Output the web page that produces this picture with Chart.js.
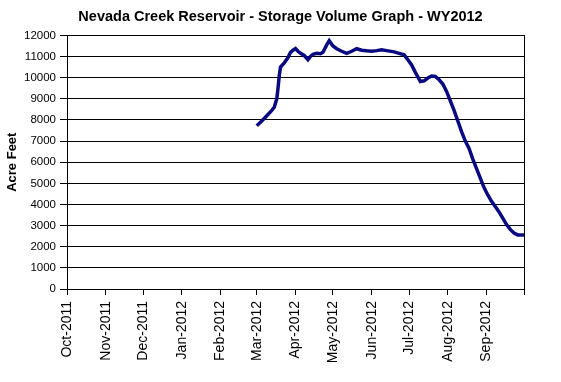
<!DOCTYPE html>
<html><head><meta charset="utf-8">
<script src="https://cdn.jsdelivr.net/npm/chart.js@4"></script>
<style>html,body{margin:0;padding:0;background:#fff}canvas{display:block}</style>
</head><body>
<canvas id="c" width="561" height="382"></canvas>
<script>
const chartTitle = "Nevada Creek Reservoir - Storage Volume Graph - WY2012";
const yAxisTitle = "Acre Feet";
const monthLabels = ["Oct-2011","Nov-2011","Dec-2011","Jan-2012","Feb-2012","Mar-2012","Apr-2012","May-2012","Jun-2012","Jul-2012","Aug-2012","Sep-2012",""];
const monthStartDays = [0,31,61,92,123,152,183,213,244,274,305,336,366];
const dayOffsets = [152,156,160,164,166,168,169,170,171,174,177,179,181,183,185,187,190,193,195,197,200,203,205,208,210,213,216,220,224,228,232,236,240,244,248,252,256,262,266,270,273,276,279,283,286,289,292,295,298,301,304,307,310,313,316,319,322,325,328,331,334,337,340,343,346,349,352,355,358,361,366];
const storageAcreFeet = [7720,7950,8200,8450,8600,9000,9500,10100,10500,10700,10950,11200,11300,11380,11250,11150,11050,10850,11000,11100,11150,11130,11200,11550,11750,11500,11370,11250,11150,11250,11370,11300,11270,11250,11280,11320,11280,11220,11150,11080,10850,10600,10250,9820,9850,9980,10080,10060,9900,9700,9350,8900,8450,7950,7450,7000,6650,6150,5700,5250,4800,4450,4150,3900,3650,3350,3050,2820,2650,2560,2550];
const yTicks = {min:0, max:12000, step:1000};

const FONT = 'Arial, "Liberation Sans", sans-serif';
const points = dayOffsets.map((d,i)=>({x:d, y:storageAcreFeet[i]}));

const bg = {id:'bg', beforeDraw(chart){const c=chart.ctx; c.save(); c.fillStyle='#fff'; c.fillRect(0,0,chart.width,chart.height); c.restore();}};

new Chart(document.getElementById('c'), {
  type:'line',
  data:{datasets:[{data:points, borderColor:'#0a0a80', borderWidth:3.5, pointRadius:0, tension:0, fill:false, yAxisID:'y', xAxisID:'x'}]},
  options:{
    responsive:false, animation:false, devicePixelRatio:1,
    layout:{padding:{left:0,right:0,top:0,bottom:0}},
    plugins:{
      legend:{display:false}, tooltip:{enabled:false},
      title:{display:true, text:chartTitle, color:'#000', font:{family:FONT, size:14.5, weight:'bold'}, padding:{top:8,bottom:10}}
    },
    scales:{
      x:{type:'linear', min:0, max:366,
        afterBuildTicks(s){ s.ticks = monthStartDays.map(v=>({value:v})); },
        afterFit(s){ s.height = 93; },
        ticks:{autoSkip:false, minRotation:90, maxRotation:90, color:'#000', padding:6,
          font:{family:FONT, size:14},
          callback(v){ const i = monthStartDays.indexOf(v); return i>=0 ? monthLabels[i] : ''; }},
        grid:{drawOnChartArea:false, drawTicks:true, tickLength:6, color:'#000'},
        border:{display:true, color:'#000', width:1}
      },
      y:{min:yTicks.min, max:yTicks.max,
        afterFit(s){ s.width = 67; },
        ticks:{stepSize:yTicks.step, color:'#000', padding:4, font:{family:FONT, size:11.5},
          callback(v){ return String(v); }},
        grid:{color:'#000', lineWidth:1, tickLength:7, drawTicks:true},
        border:{display:true, color:'#000', width:1},
        title:{display:true, text:yAxisTitle, color:'#000', font:{family:FONT, size:13, weight:'bold'}, padding:{top:5,bottom:0}}
      },
      yRight:{position:'right', min:yTicks.min, max:yTicks.max,
        afterFit(s){ s.width = 37; },
        ticks:{display:false},
        grid:{drawOnChartArea:false, drawTicks:false},
        border:{display:true, color:'#000', width:1}
      }
    }
  },
  plugins:[bg]
});
</script>
</body></html>
